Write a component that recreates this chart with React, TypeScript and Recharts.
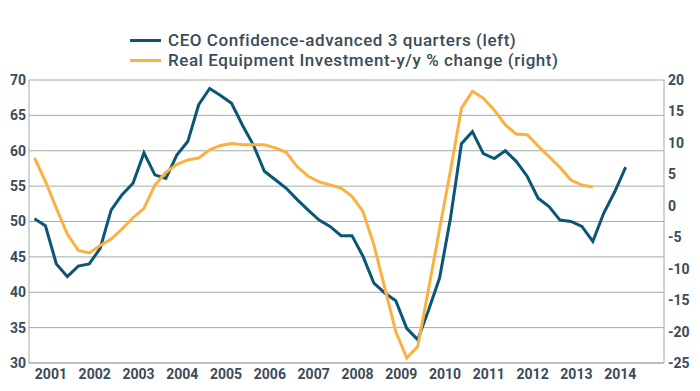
import { LineChart, Line, XAxis, YAxis, CartesianGrid, Legend } from 'recharts';

// quarterly, 2001Q1 onwards
const years = ['2001', '2002', '2003', '2004', '2005', '2006', '2007', '2008', '2009', '2010', '2011', '2012', '2013', '2014'];

const ceoConfidence = [
  50.4, 49.4, 44.0, 42.2, 43.7, 44.0, 46.2, 51.6, 53.8, 55.4,
  59.7, 56.6, 56.1, 59.4, 61.3, 66.5, 68.8, 67.8, 66.7, 63.6,
  60.8, 57.1, 55.9, 54.7, 53.1, 51.6, 50.2, 49.3, 48.0, 48.0,
  45.1, 41.3, 39.9, 38.8, 34.9, 33.3, 37.5, 42.0, 50.5, 61.0,
  62.7, 59.6, 58.9, 60.0, 58.5, 56.4, 53.3, 52.1, 50.2, 50.0,
  49.3, 47.2, 51.2, 54.2, 57.7,
];

const equipmentInvestment = [
  7.6, 3.9, -0.4, -4.5, -7.1, -7.5, -6.3, -5.3, -3.7, -1.9,
  -0.4, 3.3, 5.3, 6.6, 7.3, 7.6, 8.9, 9.6, 9.9, 9.7,
  9.7, 9.7, 9.2, 8.5, 6.2, 4.7, 3.8, 3.3, 2.8, 1.5,
  -0.9, -6.2, -13.1, -20.0, -24.2, -22.4, -13.2, -3.7, 5.6, 15.5,
  18.2, 17.1, 15.2, 12.9, 11.4, 11.3, 9.5, 7.8, 6.1, 4.1,
  3.3, 3.0,
];

const leftTicks = [30, 35, 40, 45, 50, 55, 60, 65, 70];
const rightTicks = [-25, -20, -15, -10, -5, 0, 5, 10, 15, 20];

const QUARTERS_ON_AXIS = 58;

const data = ceoConfidence.map((v, i) => ({
  q: i + 0.5,
  ceo: v,
  equip: i < equipmentInvestment.length ? equipmentInvestment[i] : null,
}));

const yearTicks = years.map((_, i) => i * 4 + 2);

const TEXT = '#3b4c59';
const BLUE = '#0b5677';
const ORANGE = '#fbb040';
const GRID = '#a3aca6';
const FONT = 'Roboto, sans-serif';

const legendItems = [
  { label: 'CEO Confidence-advanced 3 quarters (left)', color: BLUE },
  { label: 'Real Equipment Investment-y/y % change (right)', color: ORANGE },
];

function ChartLegend() {
  return (
    <div style={{ fontFamily: FONT, fontSize: 17, color: TEXT, fontWeight: 500, letterSpacing: 0.55 }}>
      {legendItems.map((it) => (
        <div key={it.label} style={{ display: 'flex', alignItems: 'center', height: 20 }}>
          <span style={{ display: 'inline-block', width: 31, height: 3, background: it.color, marginRight: 7 }} />
          <span>{it.label}</span>
        </div>
      ))}
    </div>
  );
}

export default function App() {
  const tickStyle = { fill: TEXT, fontSize: 14, fontFamily: FONT, fontWeight: 700 };
  return (
    <div style={{ width: 700, height: 391, background: '#fff' }}>
      <style>{'body{margin:0}'}</style>
      <LineChart width={700} height={391} data={data} margin={{ top: 80, right: 0, bottom: 0, left: 0 }}>
        <CartesianGrid yAxisId="left" vertical={false} stroke={GRID} />
        <XAxis
          dataKey="q"
          type="number"
          domain={[0, QUARTERS_ON_AXIS]}
          ticks={yearTicks}
          tickFormatter={(v: number) => years[(v - 2) / 4]}
          height={28}
          stroke={GRID}
          tickLine={false}
          tickSize={0}
          tickMargin={6}
          tick={tickStyle}
          interval={0}
        />
        <YAxis
          yAxisId="left"
          domain={[30, 70]}
          ticks={leftTicks}
          width={29}
          stroke={GRID}
          tickLine={false}
          tickSize={0}
          tickMargin={3}
          tick={tickStyle}
          interval={0}
        />
        <YAxis
          yAxisId="right"
          orientation="right"
          domain={[-25, 20]}
          ticks={rightTicks}
          width={36}
          stroke={GRID}
          tickLine={false}
          tickSize={0}
          tickMargin={4}
          tick={{ ...tickStyle, textAnchor: 'start' }}
          interval={0}
        />
        <Legend
          layout="vertical"
          align="center"
          verticalAlign="middle"
          wrapperStyle={{ top: 30, left: 130, width: 520 }}
          content={() => <ChartLegend />}
        />
        <Line yAxisId="left" dataKey="ceo" stroke={BLUE} strokeWidth={3} dot={false} isAnimationActive={false} />
        <Line yAxisId="right" dataKey="equip" stroke={ORANGE} strokeWidth={3} dot={false} isAnimationActive={false} />
      </LineChart>
    </div>
  );
}
